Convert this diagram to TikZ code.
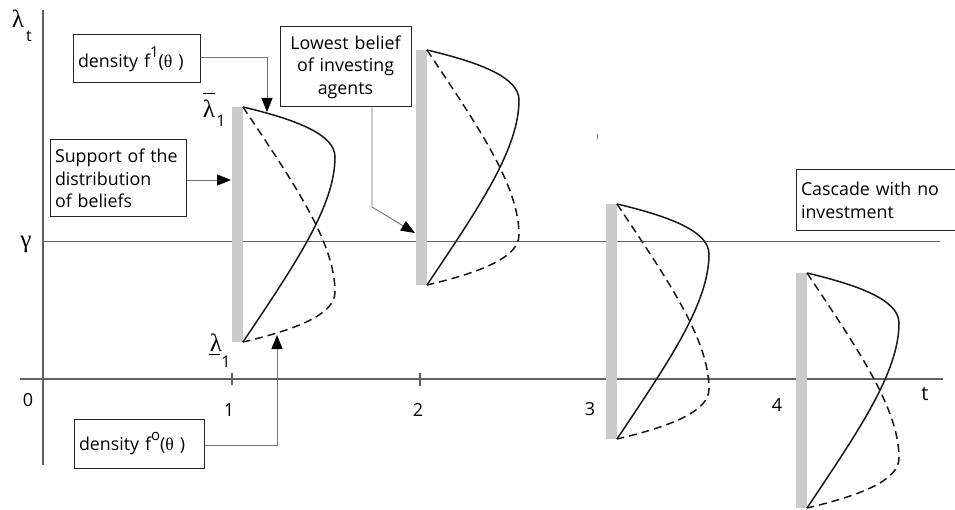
\documentclass[tikz,border=0pt]{standalone}
\usepackage{fontspec}
\setmainfont{Open Sans}
\newfontfamily\grk{Liberation Serif}
\usetikzlibrary{arrows.meta}
\definecolor{barcol}{HTML}{CBCBCE}
\begin{document}
\begin{tikzpicture}[x=1pt,y=-1pt,
  axisline/.style={draw=black!62, line width=1.1pt},
  boxed/.style={draw=black!85, line width=1pt, fill=white, inner ysep=0pt, inner xsep=5pt,
    align=left, font=\fontsize{17.8}{22.5}\selectfont},
  conn/.style={draw=black!55, line width=0.9pt},
  tipped/.style={-{Triangle[length=14pt,width=11pt,color=black]}},
  lbl/.style={inner sep=0pt, font=\fontsize{18}{18}\selectfont},
  sublbl/.style={inner sep=0pt, font=\fontsize{16}{16}\selectfont},
  grklbl/.style={inner sep=0pt, font=\fontsize{25}{25}\grk},
  supfont/.style={},
  curve/.style={draw=black!90, line width=1.5pt},
  dcurve/.style={curve, dash pattern=on 8pt off 5pt},
  belief/.pic={
    \fill[barcol] (-11,0) rectangle (0,235);
    \draw[curve] (0,0) .. controls (55,13) and (92,28) .. (92,50)
                       .. controls (92,100) and (50,160) .. (0,235);
    \draw[dcurve] (0,0) .. controls (50,75) and (92,135) .. (92,185)
                        .. controls (92,207) and (55,222) .. (0,235);
  }]
\useasboundingbox (0,0) rectangle (955,510);
\fill[white] (0,0) rectangle (955,510);

% axes
\draw[axisline] (43,10) -- (43,465);
\draw[axisline] (20,379) -- (943,379);
\draw[axisline, line width=0.9pt] (43,241) -- (940,241);
\draw[axisline] (232,373) -- (232,385);
\draw[axisline] (420,373) -- (420,386);
\draw[black!55, line width=0.8pt] (597,134) -- (597,139);

% axis labels
\node[grklbl] (lamt) at (18,19) {λ};
\node[sublbl] (lamtsub) at (29,36) {t};
\node[grklbl] (gam) at (26,244) {γ};
\node[lbl] (zero) at (28,400) {0};
\node[lbl] (t1) at (229,410) {1};
\node[lbl] (t2) at (418,410) {2};
\node[lbl] (t3) at (590,409) {3};
\node[lbl] (t4) at (777,405) {4};
\node[lbl, font=\fontsize{20}{20}\selectfont] (tt) at (925,394) {t};

% belief distributions
\pic at (243,107) {belief};
\pic at (427,50) {belief};
\pic at (617,204) {belief};
\pic at (807,273) {belief};

% lambda bar / underline labels
\node[grklbl] (lamup) at (209,109) {λ};
\draw[black, line width=1pt] (203,94) -- (215,94);
\node[sublbl] (lamupsub) at (221,121) {1};
\node[grklbl] (lamlo) at (216,343) {λ};
\draw[black, line width=1pt] (209,354) -- (220,354);
\node[sublbl] (lamlosub) at (226,362) {1};

% boxes
\node[boxed, text width=117pt, minimum height=48pt] (f1box) at (136.5,59)
  {density f\raisebox{0.55em}{\fontsize{15}{15}\selectfont 1}({\grk θ} )};
\node[boxed, text width=126pt, minimum height=77pt] (supbox) at (118,178.5)
  {Support of the\\distribution\\of beliefs};
\node[boxed, align=center, inner xsep=0pt, text width=131pt, minimum height=80pt] (lowbox) at (345.5,67)
  {Lowest belief\\of investing\\agents};
\node[boxed, text width=120pt, minimum height=49pt] (f0box) at (139,443.5)
  {density f\raisebox{0.55em}{\fontsize{15}{15}\selectfont o}({\grk θ} )};
\node[boxed, text width=152pt, minimum height=61pt, inner xsep=5pt] (casbox) at (877,200.5)
  {Cascade with no\\investment};

% connectors
\coordinate (f1tip) at (267,112);
\coordinate (suptip) at (231,180);
\coordinate (lowbend) at (372,207);
\coordinate (lowtip) at (415,233);
\coordinate (f0tip) at (277,335);
\draw[conn, tipped] ([yshift=2pt]f1box.east) -| (f1tip);
\draw[conn, tipped] ([yshift=-1.5pt]supbox.east) -- (suptip);
\draw[conn, tipped] ([xshift=26.5pt]lowbox.south) -- (lowbend) -- (lowtip);
\draw[conn, tipped] ([yshift=-1.5pt]f0box.east) -| (f0tip);
\end{tikzpicture}
\end{document}
